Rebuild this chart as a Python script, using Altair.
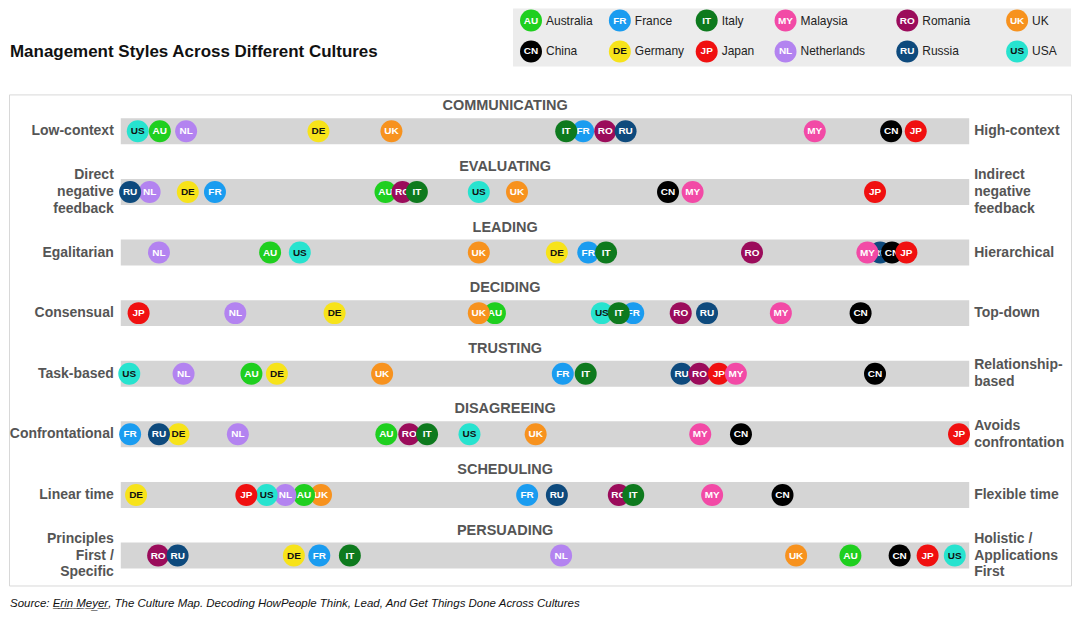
import altair as alt
import pandas as pd

FONT = "Liberation Sans"
TITLE = "Management Styles Across Different Cultures"
SOURCE = ("Source: " + "".join(ch + "\u0332" for ch in "Erin Meyer")
          + ", The Culture Map. Decoding HowPeople Think, Lead, And Get Things Done Across Cultures")

# countries: code, legend name, colour
codes = ["AU", "CN", "FR", "DE", "IT", "JP", "MY", "NL", "RO", "RU", "UK", "US"]
names = ["Australia", "China", "France", "Germany", "Italy", "Japan",
         "Malaysia", "Netherlands", "Romania", "Russia", "UK", "USA"]
colors = ["#1fcf1f", "#000000", "#1a9cf0", "#f7e31a", "#0e7a1e", "#f01010",
          "#f24aa6", "#b383f0", "#9b0c5b", "#0e4a7d", "#f7921e", "#27e3cf"]
dark_text = ["DE", "US"]

dimensions = ["COMMUNICATING", "EVALUATING", "LEADING", "DECIDING",
              "TRUSTING", "DISAGREEING", "SCHEDULING", "PERSUADING"]
left_labels = ["Low-context", "Direct\nnegative\nfeedback", "Egalitarian", "Consensual",
               "Task-based", "Confrontational", "Linear time", "Principles\nFirst /\nSpecific"]
right_labels = ["High-context", "Indirect\nnegative\nfeedback", "Hierarchical", "Top-down",
                "Relationship-\nbased", "Avoids\nconfrontation", "Flexible time",
                "Holistic /\nApplications\nFirst"]

# position of each country on the scale (0 = left end, 100 = right end),
# listed in the order the dots are stacked
communicating_codes = ["US", "AU", "NL", "DE", "UK", "FR", "IT", "RO", "RU", "MY", "CN", "JP"]
communicating_pos = [2.0, 4.6, 7.7, 23.3, 31.9, 54.5, 52.5, 57.1, 59.5, 81.8, 90.8, 93.7]

evaluating_codes = ["NL", "RU", "DE", "FR", "AU", "RO", "IT", "US", "UK", "CN", "MY", "JP"]
evaluating_pos = [3.4, 1.1, 7.9, 11.1, 31.2, 33.2, 34.9, 42.2, 46.7, 64.5, 67.4, 88.9]

leading_codes = ["NL", "AU", "US", "UK", "DE", "FR", "IT", "RO", "RU", "MY", "CN", "JP"]
leading_pos = [4.5, 17.6, 21.1, 42.2, 51.4, 55.1, 57.2, 74.4, 89.5, 88.0, 90.9, 92.6]

deciding_codes = ["JP", "NL", "DE", "AU", "UK", "US", "FR", "IT", "RO", "RU", "MY", "CN"]
deciding_pos = [2.1, 13.5, 25.2, 44.1, 42.2, 56.7, 60.4, 58.7, 66.0, 69.1, 77.8, 87.2]

trusting_codes = ["US", "NL", "AU", "DE", "UK", "FR", "IT", "RU", "RO", "JP", "MY", "CN"]
trusting_pos = [1.0, 7.4, 15.4, 18.4, 30.8, 52.1, 54.8, 66.1, 68.2, 70.5, 72.5, 88.9]

disagreeing_codes = ["FR", "DE", "RU", "NL", "AU", "RO", "IT", "US", "UK", "MY", "CN", "JP"]
disagreeing_pos = [1.1, 6.8, 4.5, 13.8, 31.3, 34.0, 36.1, 41.1, 48.9, 68.3, 73.1, 98.8]

scheduling_codes = ["DE", "UK", "AU", "NL", "US", "JP", "FR", "RU", "RO", "IT", "MY", "CN"]
scheduling_pos = [1.8, 23.6, 21.6, 19.4, 17.2, 14.8, 47.9, 51.4, 58.7, 60.4, 69.7, 78.0]

persuading_codes = ["RO", "RU", "DE", "FR", "IT", "NL", "UK", "AU", "CN", "JP", "US"]
persuading_pos = [4.4, 6.7, 20.4, 23.4, 27.0, 51.9, 79.6, 86.0, 91.8, 95.1, 98.3]

scales = [
    (communicating_codes, communicating_pos),
    (evaluating_codes, evaluating_pos),
    (leading_codes, leading_pos),
    (deciding_codes, deciding_pos),
    (trusting_codes, trusting_pos),
    (disagreeing_codes, disagreeing_pos),
    (scheduling_codes, scheduling_pos),
    (persuading_codes, persuading_pos),
]

LINE_H = 17

# rows table
rows = pd.DataFrame({
    "row": list(range(len(dimensions))),
    "dim": dimensions,
    "left": left_labels,
    "right": right_labels,
    "nleft": [s.count("\n") + 1 for s in left_labels],
    "nright": [s.count("\n") + 1 for s in right_labels],
    "lo": 0,
    "hi": 100,
    "mid": 45.3,
})

# dots table; depth = stacking level so later dots hide earlier labels
recs = []
for r, (cc, pp) in enumerate(scales):
    depth = []
    for i, p in enumerate(pp):
        d = 0
        for j in range(i):
            if abs(p - pp[j]) * 8.5 < 22:
                d = max(d, depth[j] + 1)
        depth.append(d)
    for c, p, d in zip(cc, pp, depth):
        recs.append({"row": r, "code": c, "pos": p, "depth": d})
dots = pd.DataFrame(recs)

x_scale = alt.Scale(domain=[0, 100], range=[112, 962])
y_scale = alt.Scale(domain=[0, 7], range=[37, 462])
color_scale = alt.Scale(domain=codes, range=colors)
ink = alt.condition(alt.FieldOneOfPredicate(field="code", oneOf=dark_text),
                    alt.value("#111111"), alt.value("white"))

base_rows = alt.Chart(rows).encode(
    y=alt.Y("row:Q", scale=y_scale, axis=None),
)

track = base_rows.mark_rule(strokeWidth=26, color="#d5d5d5").encode(
    x=alt.X("lo:Q", scale=x_scale, axis=None),
    x2="hi:Q",
)

dim_titles = base_rows.mark_text(font=FONT, fontSize=14.5, fontWeight="bold",
                                 color="#555555", dy=-25).encode(
    x=alt.X("mid:Q", scale=x_scale, axis=None),
    text="dim:N",
)

layers = [track, dim_titles]

# side labels, shifted up so multi-line blocks sit centred on the track
for n in [1, 2, 3]:
    shift = -(n - 1) * LINE_H / 2
    layers.append(base_rows.mark_text(font=FONT, fontSize=14, fontWeight="bold", color="#555555",
                                      align="right", baseline="middle", lineBreak="\n",
                                      lineHeight=LINE_H, dx=-7, dy=shift).encode(
        x=alt.X("lo:Q", scale=x_scale, axis=None),
        text="left:N",
    ).transform_filter(alt.datum.nleft == n))
    layers.append(base_rows.mark_text(font=FONT, fontSize=14, fontWeight="bold", color="#555555",
                                      align="left", baseline="middle", lineBreak="\n",
                                      lineHeight=LINE_H, dx=5, dy=shift).encode(
        x=alt.X("hi:Q", scale=x_scale, axis=None),
        text="right:N",
    ).transform_filter(alt.datum.nright == n))

base_dots = alt.Chart(dots).encode(
    x=alt.X("pos:Q", scale=x_scale, axis=None),
    y=alt.Y("row:Q", scale=y_scale, axis=None),
)
for d in range(int(dots["depth"].max()) + 1):
    layers.append(base_dots.mark_circle(size=484, opacity=1).encode(
        color=alt.Color("code:N", scale=color_scale, legend=None),
    ).transform_filter(alt.datum.depth == d))
    layers.append(base_dots.mark_text(font=FONT, fontSize=10, fontWeight="bold").encode(
        text="code:N",
        color=ink,
    ).transform_filter(alt.datum.depth == d))

main = alt.layer(*layers).properties(
    width=1064, height=492,
    view=alt.ViewBackground(stroke="#d8d8d8", strokeWidth=1),
)

# legend box
legend_df = pd.DataFrame({
    "code": codes,
    "name": names,
    "col": [i // 2 for i in range(len(codes))],
    "lrow": [i % 2 for i in range(len(codes))],
})
lx = alt.Scale(domain=[0, 1, 2, 3, 4, 5], range=[18, 107, 194, 273, 395, 505])
ly = alt.Scale(domain=[0, 1], range=[12, 43])
leg_base = alt.Chart(legend_df).encode(
    x=alt.X("col:Q", scale=lx, axis=None),
    y=alt.Y("lrow:Q", scale=ly, axis=None),
)
legend = alt.layer(
    leg_base.mark_circle(size=484, opacity=1).encode(
        color=alt.Color("code:N", scale=color_scale, legend=None)),
    leg_base.mark_text(font=FONT, fontSize=10, fontWeight="bold").encode(
        text="code:N", color=ink),
    leg_base.mark_text(font=FONT, fontSize=12, color="#222222", align="left", dx=15).encode(
        text="name:N"),
).properties(width=559, height=58, view=alt.ViewBackground(fill="#ececec"))

title = alt.Chart(pd.DataFrame({"t": [TITLE]})).mark_text(
    font=FONT, fontSize=17, fontWeight="bold", color="#111111", align="left", baseline="middle"
).encode(x=alt.value(1), y=alt.value(44), text="t:N").properties(width=505, height=58)

footer = alt.Chart(pd.DataFrame({"t": [SOURCE]})).mark_text(
    font=FONT, fontSize=11.5, fontStyle="italic", color="#111111", align="left", baseline="middle"
).encode(x=alt.value(1), y=alt.value(18), text="t:N").properties(width=1064, height=25)

header = alt.hconcat(title, legend, spacing=0)
top = alt.vconcat(header, main, spacing=27)
chart = alt.vconcat(top, footer, spacing=0).properties(
    padding=0
).configure_view(stroke=None)

chart.save("out.html", embed_options={"renderer": "svg", "actions": False})
